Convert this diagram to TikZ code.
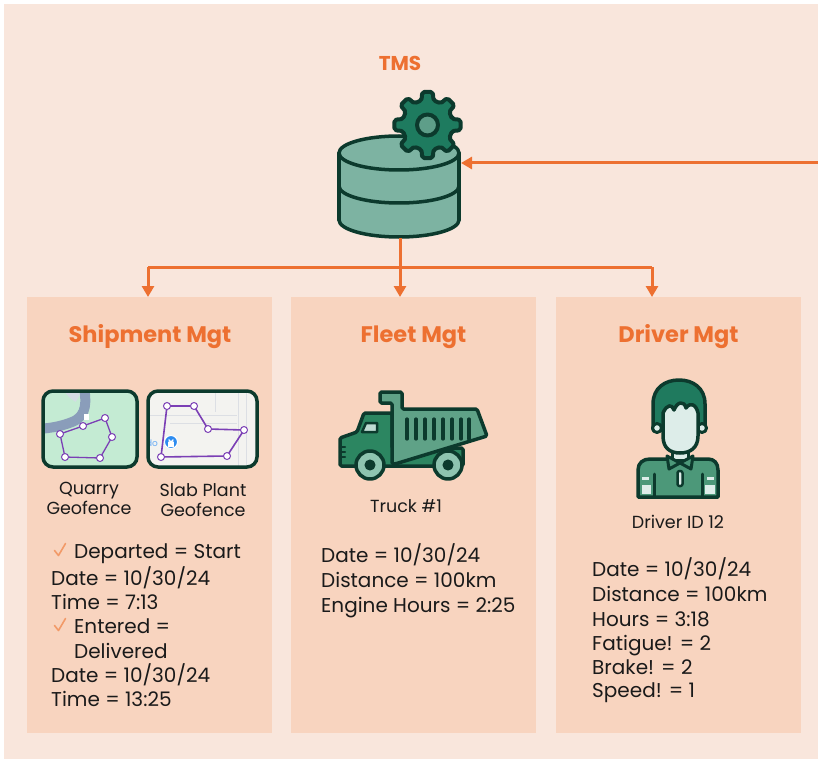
\documentclass[tikz,border=0pt]{standalone}
\usepackage{fontspec}
\setmainfont{Poppins}
\usetikzlibrary{arrows.meta,calc}

\definecolor{pagebg}{HTML}{F9E6DC}
\definecolor{panelbg}{HTML}{F8D4BF}
\definecolor{accent}{HTML}{ED7031}
\definecolor{tick}{HTML}{F29A68}
\definecolor{ink}{HTML}{0C3A2D}
\definecolor{dbfill}{HTML}{7DB3A2}
\definecolor{gearfill}{HTML}{1E7B5F}
\definecolor{gearhole}{HTML}{5E9E89}
\definecolor{cabgreen}{HTML}{2C8661}
\definecolor{bedgreen}{HTML}{5FA287}
\definecolor{wheelfill}{HTML}{8EC4B0}
\definecolor{glass}{HTML}{BFDCD3}
\definecolor{hair}{HTML}{1F7A5E}
\definecolor{skin}{HTML}{DDEDE9}
\definecolor{shirt}{HTML}{4C9879}
\definecolor{mint}{HTML}{C4EBD3}
\definecolor{road}{HTML}{8A9DBA}
\definecolor{roadlight}{HTML}{D3DCE4}
\definecolor{fence}{HTML}{7B3FB5}
\definecolor{mapgrey}{HTML}{F3F3F0}
\definecolor{mapline}{HTML}{DCDFE4}
\definecolor{pin}{HTML}{2D8CF0}
\definecolor{bodytext}{HTML}{1A1A1A}

\tikzset{
  panel/.style={fill=panelbg, draw=none, minimum width=245, minimum height=436, anchor=north west, inner sep=0},
  title/.style={text=accent, font=\fontsize{22.5}{26}\selectfont\bfseries, inner sep=0},
  bodyline/.style={text=bodytext, font=\fontsize{20}{24}\selectfont, inner sep=0, anchor=base west},
  caption/.style={text=bodytext, font=\fontsize{17.5}{20}\selectfont, inner sep=0, anchor=base},
  flow/.style={draw=accent, line width=3},
  flowarrow/.style={flow, -{Triangle[length=11pt,width=12pt]}},
  inkline/.style={draw=ink, line width=3.5, line join=round, line cap=round},
  vertex/.style={circle, draw=fence, fill=white, line width=1, inner sep=0, minimum size=7},
  checkmark/.style={draw=tick, line width=1.6, line cap=round, line join=round},
}

\begin{document}
\begin{tikzpicture}[x=1pt,y=-1pt]
\useasboundingbox (0,0) rectangle (818,759);
\fill[pagebg] (4,4) rectangle (818,759);

% ---------- panels ----------
\node[panel] (ship)  at (27,297)  {};
\node[panel] (fleet) at (291,297) {};
\node[panel] (drv)   at (556,297) {};

% ---------- TMS database with gear ----------
\node[title, font=\fontsize{20}{24}\selectfont\bfseries] (tms) at (400,63) {TMS};

\fill[dbfill] (339,153) rectangle (459,220);
\fill[dbfill] (399,220) ellipse [x radius=60, y radius=17];
\draw[inkline, fill=dbfill] (399,153) ellipse [x radius=60, y radius=17];
\draw[inkline] (339,153) -- (339,220);
\draw[inkline] (459,153) -- (459,220);
\draw[inkline] (339,186) arc[start angle=180, end angle=0, x radius=60, y radius=17];
\draw[inkline] (339,220) arc[start angle=180, end angle=0, x radius=60, y radius=17];
\coordinate (dbB) at (400,238);
\coordinate (dbR) at (461,163);

\begin{scope}[shift={(427.5,125)}]
  \draw[inkline, fill=gearfill, line width=4, rounded corners=2]
    (-14:25) \foreach \a in {0,45,...,315}{
      -- (\a-9:33.5) -- (\a+9:33.5) -- (\a+14:25)
      arc[start angle=\a+14, end angle=\a+31, radius=25] } -- cycle;
  \draw[inkline, fill=gearhole, line width=4] (0,0) circle (10.5);
\end{scope}

% ---------- connectors ----------
\coordinate (feed) at (818,163);
\coordinate (jL) at (148,267);
\coordinate (jR) at (652,267);
\draw[flowarrow] (feed) -- (dbR);
\draw[flow] (jL) -- (jR);
\draw[flowarrow] (dbB) -- (dbB |- fleet.north);
\draw[flowarrow] (jL) -- (jL |- ship.north);
\draw[flowarrow] (jR) -- (jR |- drv.north);

% ---------- panel titles ----------
\node[title] (shipT)  at (150,337) {Shipment Mgt};
\node[title] (fleetT) at (413.5,337) {Fleet Mgt};
\node[title] (drvT)   at (678.5,337) {Driver Mgt};

% ---------- quarry geofence map ----------
\begin{scope}
  \clip[rounded corners=10] (43,391) rectangle (137,467);
  \fill[mint] (43,391) rectangle (137,467);
  \draw[roadlight, line width=9] (66,386) .. controls (70,392) and (74,396) .. (78,398);
  \draw[road, line width=10] (84,386) .. controls (86,400) and (88,416) .. (72,422)
        .. controls (62,426) and (52,428) .. (38,429);
  \fill[white] (83.5,414) rectangle (89,419.5);
\end{scope}
\draw[ink, line width=3.5, rounded corners=10] (43,391) rectangle (137,467);
\draw[fence, line width=1.3] (60,434) -- (83,426) -- (105,418) -- (112,437) -- (100,458) -- (65,457) -- cycle;
\foreach \p [count=\i] in {(60,434),(83,426),(105,418),(112,437),(100,458),(65,457)}
  \node[vertex] (q\i) at \p {};

% ---------- slab plant geofence map ----------
\begin{scope}
  \clip[rounded corners=10] (148,391) rectangle (257,467);
  \fill[mapgrey] (148,391) rectangle (257,467);
  \draw[mapline, line width=1] (150,415) -- (237,415);
  \draw[mapline, line width=1] (170,423) -- (237,423);
  \draw[mapline, line width=1] (238,391) -- (238,467);
  \draw[mapline, line width=1] (246,391) -- (246,467);
  \draw[mapline, line width=1] (215,391) -- (215,412);
  \node[text=pin!70, font=\fontsize{9}{10}\selectfont, inner sep=0] (doTxt) at (152,443) {do};
\end{scope}
\draw[ink, line width=3.5, rounded corners=10] (148,391) rectangle (257,467);
\draw[fence, line width=1.6] (167,406) -- (194,406) -- (208,429) -- (244,430) -- (227,456) -- (161,457) -- cycle;
\foreach \p [count=\i] in {(167,406),(194,406),(208,429),(244,430),(227,456),(161,457)}
  \node[vertex] (s\i) at \p {};
\node[circle, fill=pin, draw=white, line width=1, minimum size=13, inner sep=0] (lock) at (171,442) {};
\fill[white] (168,442) rectangle (174,446.5);
\draw[white, line width=1] (169.2,442) -- (169.2,440) arc[start angle=180, end angle=0, radius=1.8] -- (172.8,442);

\node[caption] (qc1) at (89,494) {Quarry};
\node[caption] (qc2) at (89,514) {Geofence};
\node[caption] (pc1) at (203,496) {Slab Plant};
\node[caption] (pc2) at (203,516) {Geofence};

% ---------- dump truck ----------
\draw[inkline, fill=cabgreen, rounded corners=1.5]
  (340,438) -- (357,432) -- (364,413) -- (392,413) -- (392,448) -- (463,448)
  -- (463,466) -- (340,466) -- cycle;
\draw[inkline, fill=bedgreen, rounded corners=1.5]
  (380,392) -- (402,392) -- (402,409) -- (477,409) -- (487,436) -- (395,464)
  -- (392,464) -- (392,403) -- (380,403) -- cycle;
\foreach \x in {407,416,425,434,443,452,461,469}
  \draw[inkline, line width=3.2] (\x,419) -- (\x,439);
\draw[inkline, line width=2.5, fill=glass] (366,423) -- (377,423) -- (377,432) -- (362,432) -- cycle;
\foreach \y in {447,452,457}
  \draw[inkline, line width=2.3] (340,\y) -- (345,\y);
\foreach \x in {370,448}{
  \draw[inkline, fill=wheelfill] (\x,465) circle (14);
  \draw[inkline, line width=2, fill=ink] (\x,465) circle (4.5);
}
\node[caption] (truckC) at (406,512) {Truck \#1};

% ---------- driver ----------
\draw[inkline, fill=hair] (653,430) -- (653,404) .. controls (653,388) and (665,380) .. (679,380)
  .. controls (693,380) and (705,388) .. (705,404) -- (705,430) -- cycle;
\draw[inkline, fill=skin, line width=3] (657,428) circle (4.5);
\draw[inkline, fill=skin, line width=3] (702,428) circle (4.5);
\draw[inkline, fill=shirt] (638,497) -- (638,470) .. controls (638,463) and (643,459) .. (650,459)
  -- (708,459) .. controls (714,459) and (718,463) .. (718,470) -- (718,497) -- cycle;
\draw[inkline, fill=skin, line width=3] (672,448) rectangle (688,460);
\draw[inkline, fill=skin]
  (663,413) .. controls (667,404) and (672,404) .. (674,410)
  .. controls (677,402) and (684,400) .. (686,408)
  .. controls (690,402) and (696,404) .. (698,413)
  -- (698,436) .. controls (698,448) and (690,453) .. (680,453)
  .. controls (670,453) and (663,448) .. (663,436) -- cycle;
\draw[inkline, fill=shirt, line width=3] (680,463) -- (667,456) -- (669,469) -- cycle;
\draw[inkline, fill=shirt, line width=3] (680,463) -- (693,456) -- (691,469) -- cycle;
\draw[inkline, fill=skin, line width=2.5, rounded corners=2] (677.5,471) rectangle (682.5,486);
\draw[inkline, line width=3] (654,474) -- (654,497);
\draw[inkline, line width=3] (702,474) -- (702,497);
\fill[skin] (642,485) rectangle (651,494);
\fill[skin] (705,485) rectangle (715,494);
\fill[skin] (642,477) rectangle (649,480);
\fill[skin] (707,477) rectangle (714,480);
\node[caption] (drvC) at (678,528) {Driver ID 12};

% ---------- shipment text ----------
\draw[checkmark] (54.5,550.5) -- (58.5,555.5) -- (65.5,543.5);
\node[bodyline] (sh1) at (74,558) {Departed = Start};
\node[bodyline] (sh2) at (51,585) {Date = 10/30/24};
\node[bodyline] (sh3) at (51,609) {Time = 7:13};
\draw[checkmark] (54.5,625.5) -- (58.5,630.5) -- (65.5,618.5);
\node[bodyline] (sh4) at (74,633) {Entered =};
\node[bodyline] (sh5) at (74,658) {Delivered};
\node[bodyline] (sh6) at (51,682) {Date = 10/30/24};
\node[bodyline] (sh7) at (51,706) {Time = 13:25};

% ---------- fleet text ----------
\node[bodyline] (fl1) at (321,562) {Date = 10/30/24};
\node[bodyline] (fl2) at (321,587) {Distance = 100km};
\node[bodyline] (fl3) at (321,612) {Engine Hours = 2:25};

% ---------- driver text ----------
\node[bodyline] (dr1) at (592,576) {Date = 10/30/24};
\node[bodyline] (dr2) at (592,601) {Distance = 100km};
\node[bodyline] (dr3) at (592,626) {Hours = 3:18};
\node[bodyline] (dr4) at (592,650) {Fatigue! = 2};
\node[bodyline] (dr5) at (592,674) {Brake! = 2};
\node[bodyline] (dr6) at (592,697) {Speed! = 1};
\end{tikzpicture}
\end{document}
